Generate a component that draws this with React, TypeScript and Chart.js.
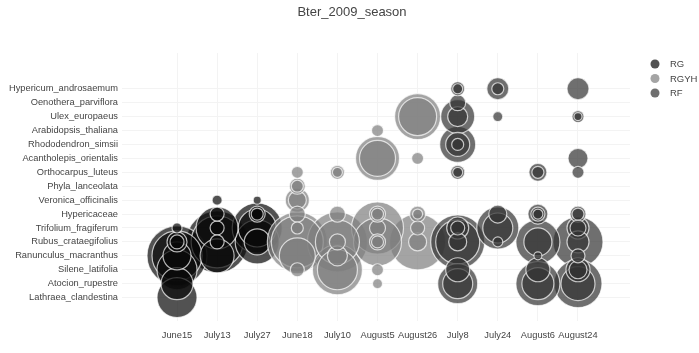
import React, { useEffect, useRef } from 'react';
import { Chart, registerables } from 'chart.js';

Chart.register(...registerables);

const FONT = 'Arial, "Liberation Sans", Helvetica, sans-serif';

const chartTitle = 'Bter_2009_season';

const dates = ['June15', 'July13', 'July27', 'June18', 'July10', 'August5', 'August26', 'July8', 'July24', 'August6', 'August24'];

const species = [
  'Hypericum_androsaemum',
  'Oenothera_parviflora',
  'Ulex_europaeus',
  'Arabidopsis_thaliana',
  'Rhododendron_simsii',
  'Acantholepis_orientalis',
  'Orthocarpus_luteus',
  'Phyla_lanceolata',
  'Veronica_officinalis',
  'Hypericaceae',
  'Trifolium_fragiferum',
  'Rubus_crataegifolius',
  'Ranunculus_macranthus',
  'Silene_latifolia',
  'Atocion_rupestre',
  'Lathraea_clandestina',
];

const seriesNames = ['RG', 'RGYH', 'RF'];

type Obs = [string, string, number];

const rgObs: Obs[] = [
  ['June15', 'Ranunculus_macranthus', 30],
  ['June15', 'Ranunculus_macranthus', 25],
  ['June15', 'Silene_latifolia', 20],
  ['June15', 'Lathraea_clandestina', 20],
  ['June15', 'Atocion_rupestre', 16],
  ['June15', 'Ranunculus_macranthus', 14],
  ['June15', 'Rubus_crataegifolius', 10],
  ['June15', 'Rubus_crataegifolius', 7],
  ['June15', 'Trifolium_fragiferum', 5],
  ['July13', 'Rubus_crataegifolius', 31],
  ['July13', 'Rubus_crataegifolius', 26],
  ['July13', 'Trifolium_fragiferum', 21],
  ['July13', 'Ranunculus_macranthus', 17],
  ['July13', 'Trifolium_fragiferum', 7],
  ['July13', 'Rubus_crataegifolius', 7],
  ['July13', 'Hypericaceae', 7],
  ['July13', 'Veronica_officinalis', 5],
  ['July27', 'Trifolium_fragiferum', 25],
  ['July27', 'Rubus_crataegifolius', 22],
  ['July27', 'Trifolium_fragiferum', 19],
  ['July27', 'Rubus_crataegifolius', 13],
  ['July27', 'Hypericaceae', 8],
  ['July27', 'Hypericaceae', 6],
  ['July27', 'Veronica_officinalis', 4],
];

const rgyhObs: Obs[] = [
  ['June18', 'Rubus_crataegifolius', 30],
  ['June18', 'Rubus_crataegifolius', 26],
  ['June18', 'Ranunculus_macranthus', 18],
  ['June18', 'Veronica_officinalis', 12],
  ['June18', 'Veronica_officinalis', 9],
  ['June18', 'Phyla_lanceolata', 8],
  ['June18', 'Hypericaceae', 8],
  ['June18', 'Silene_latifolia', 7],
  ['June18', 'Phyla_lanceolata', 6],
  ['June18', 'Orthocarpus_luteus', 6],
  ['June18', 'Trifolium_fragiferum', 6],
  ['July10', 'Rubus_crataegifolius', 30],
  ['July10', 'Silene_latifolia', 25],
  ['July10', 'Rubus_crataegifolius', 22],
  ['July10', 'Silene_latifolia', 20],
  ['July10', 'Ranunculus_macranthus', 10],
  ['July10', 'Hypericaceae', 8],
  ['July10', 'Rubus_crataegifolius', 8],
  ['July10', 'Orthocarpus_luteus', 7],
  ['July10', 'Orthocarpus_luteus', 5],
  ['August5', 'Trifolium_fragiferum', 26],
  ['August5', 'Rubus_crataegifolius', 24],
  ['August5', 'Acantholepis_orientalis', 22],
  ['August5', 'Acantholepis_orientalis', 18],
  ['August5', 'Trifolium_fragiferum', 8],
  ['August5', 'Rubus_crataegifolius', 8],
  ['August5', 'Hypericaceae', 8],
  ['August5', 'Hypericaceae', 6],
  ['August5', 'Rubus_crataegifolius', 6],
  ['August5', 'Silene_latifolia', 6],
  ['August5', 'Arabidopsis_thaliana', 6],
  ['August5', 'Atocion_rupestre', 5],
  ['August26', 'Rubus_crataegifolius', 28],
  ['August26', 'Ulex_europaeus', 23],
  ['August26', 'Ulex_europaeus', 19],
  ['August26', 'Rubus_crataegifolius', 9],
  ['August26', 'Hypericaceae', 8],
  ['August26', 'Trifolium_fragiferum', 7],
  ['August26', 'Acantholepis_orientalis', 6],
  ['August26', 'Hypericaceae', 5],
];

const rfObs: Obs[] = [
  ['July8', 'Rubus_crataegifolius', 27],
  ['July8', 'Rubus_crataegifolius', 22],
  ['July8', 'Atocion_rupestre', 20],
  ['July8', 'Rhododendron_simsii', 18],
  ['July8', 'Ulex_europaeus', 17],
  ['July8', 'Atocion_rupestre', 15],
  ['July8', 'Silene_latifolia', 12],
  ['July8', 'Rhododendron_simsii', 12],
  ['July8', 'Trifolium_fragiferum', 11],
  ['July8', 'Ulex_europaeus', 10],
  ['July8', 'Rubus_crataegifolius', 9],
  ['July8', 'Oenothera_parviflora', 8],
  ['July8', 'Trifolium_fragiferum', 7],
  ['July8', 'Orthocarpus_luteus', 7],
  ['July8', 'Hypericum_androsaemum', 7],
  ['July8', 'Rhododendron_simsii', 6],
  ['July8', 'Orthocarpus_luteus', 5],
  ['July8', 'Hypericum_androsaemum', 5],
  ['July24', 'Trifolium_fragiferum', 21],
  ['July24', 'Trifolium_fragiferum', 15],
  ['July24', 'Hypericum_androsaemum', 11],
  ['July24', 'Hypericaceae', 9],
  ['July24', 'Hypericum_androsaemum', 6],
  ['July24', 'Ulex_europaeus', 5],
  ['July24', 'Rubus_crataegifolius', 5],
  ['August6', 'Rubus_crataegifolius', 22],
  ['August6', 'Atocion_rupestre', 22],
  ['August6', 'Atocion_rupestre', 16],
  ['August6', 'Rubus_crataegifolius', 14],
  ['August6', 'Silene_latifolia', 12],
  ['August6', 'Hypericaceae', 10],
  ['August6', 'Orthocarpus_luteus', 9],
  ['August6', 'Hypericaceae', 7],
  ['August6', 'Orthocarpus_luteus', 6],
  ['August6', 'Hypericaceae', 5],
  ['August6', 'Ranunculus_macranthus', 4],
  ['August24', 'Rubus_crataegifolius', 25],
  ['August24', 'Atocion_rupestre', 24],
  ['August24', 'Atocion_rupestre', 17],
  ['August24', 'Silene_latifolia', 12],
  ['August24', 'Hypericum_androsaemum', 11],
  ['August24', 'Trifolium_fragiferum', 11],
  ['August24', 'Rubus_crataegifolius', 11],
  ['August24', 'Acantholepis_orientalis', 10],
  ['August24', 'Silene_latifolia', 9],
  ['August24', 'Hypericaceae', 8],
  ['August24', 'Trifolium_fragiferum', 8],
  ['August24', 'Ranunculus_macranthus', 7],
  ['August24', 'Ulex_europaeus', 6],
  ['August24', 'Orthocarpus_luteus', 6],
  ['August24', 'Hypericaceae', 6],
  ['August24', 'Ulex_europaeus', 4],
];

const seriesObs = [rgObs, rgyhObs, rfObs];
const seriesFill = ['rgba(8,8,8,0.7)', 'rgba(126,126,126,0.7)', 'rgba(50,50,50,0.7)'];
const BORDER = 'rgba(255,255,255,0.7)';

function toPoints(obs: Obs[]) {
  return obs
    .map(([d, s, size]) => ({
      x: dates.indexOf(d),
      y: species.length - 1 - species.indexOf(s),
      r: size,
    }))
    .sort((a, b) => b.r - a.r);
}

const overlayPlugin = {
  id: 'overlay',
  afterDraw(chart: any) {
    const ctx = chart.ctx as CanvasRenderingContext2D;
    ctx.save();
    ctx.font = `13px ${FONT}`;
    ctx.fillStyle = '#444';
    ctx.textAlign = 'center';
    ctx.textBaseline = 'middle';
    ctx.fillText(chartTitle, 352, 12);
    seriesNames.forEach((name, i) => {
      const y = 64 + i * 14.5;
      ctx.beginPath();
      ctx.arc(655, y, 4.5, 0, Math.PI * 2);
      ctx.fillStyle = seriesFill[i];
      ctx.fill();
      ctx.fillStyle = '#444';
      ctx.textAlign = 'left';
      ctx.font = `9.5px ${FONT}`;
      ctx.fillText(name, 670, y + 0.5);
    });
    ctx.restore();
  },
};

export default function App() {
  const canvasRef = useRef<HTMLCanvasElement | null>(null);

  useEffect(() => {
    document.body.style.margin = '0';
    const canvas = canvasRef.current;
    if (!canvas) return;

    const chart = new Chart(canvas, {
      type: 'bubble',
      data: {
        datasets: seriesNames.map((name, i) => ({
          label: name,
          data: toPoints(seriesObs[i]),
          backgroundColor: seriesFill[i],
          borderColor: BORDER,
          borderWidth: 1.2,
          hoverRadius: 0,
          order: 3 - i,
        })),
      },
      options: {
        responsive: false,
        animation: false,
        devicePixelRatio: 1,
        layout: { padding: { top: 53, right: 69, left: 0, bottom: 0 } },
        plugins: {
          legend: { display: false },
          title: { display: false },
          tooltip: { enabled: false },
        },
        scales: {
          x: {
            type: 'linear',
            min: -1.372,
            max: 11.297,
            afterBuildTicks: (scale: any) => {
              scale.ticks = dates.map((_, i) => ({ value: i }));
            },
            afterFit: (scale: any) => {
              scale.height = 23;
            },
            ticks: {
              callback: (v: any) => dates[Math.round(Number(v))] ?? '',
              color: '#444',
              font: { family: FONT, size: 9.3 },
              padding: 9,
              maxRotation: 0,
              autoSkip: false,
            },
            grid: { color: '#f3f3f3', drawTicks: false },
            border: { display: false },
          },
          y: {
            type: 'linear',
            min: -1.667,
            max: 17.569,
            afterBuildTicks: (scale: any) => {
              scale.ticks = species.map((_, i) => ({ value: i }));
            },
            afterFit: (scale: any) => {
              scale.width = 122;
            },
            ticks: {
              callback: (v: any) => species[species.length - 1 - Math.round(Number(v))] ?? '',
              color: '#444',
              font: { family: FONT, size: 9.3 },
              padding: 4,
              autoSkip: false,
            },
            grid: { color: '#f3f3f3', drawTicks: false },
            border: { display: false },
          },
        },
      },
      plugins: [overlayPlugin],
    } as any);

    return () => chart.destroy();
  }, []);

  return (
    <div style={{ width: 699, height: 353, background: '#fff' }}>
      <canvas ref={canvasRef} width={699} height={353} style={{ display: 'block' }} />
    </div>
  );
}
